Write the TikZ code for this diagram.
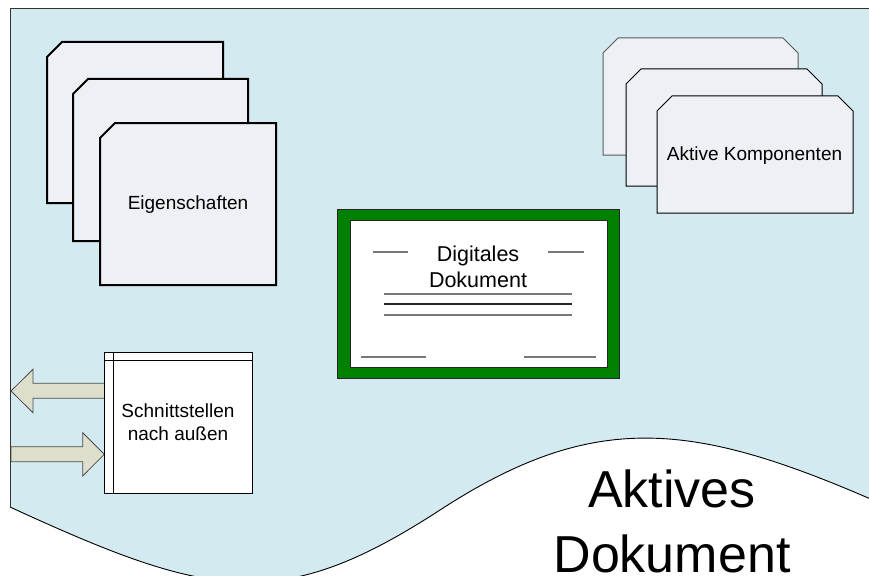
\documentclass[tikz,border=0pt]{standalone}
\usepackage{fontspec}
\setmainfont{Liberation Sans}
\definecolor{paper}{RGB}{210,234,240}
\definecolor{cardfill}{RGB}{237,240,245}
\definecolor{framegreen}{RGB}{0,128,0}
\definecolor{arrowfill}{RGB}{221,223,204}
\definecolor{rulegray}{RGB}{120,120,120}
\tikzset{
  heavycard/.style={fill=cardfill, draw=black, line width=2pt, line join=miter},
  lightcard/.style={fill=cardfill, draw=black, line width=1pt, line join=miter},
  backcard/.style={fill=cardfill, draw=black!65, line width=1pt, line join=miter},
  rulebar/.style={draw=rulegray, line width=1.2pt},
  blockarrow/.style={fill=arrowfill, draw=black!70, line width=0.8pt, line join=miter},
  label/.style={font=\fontsize{19}{23}\selectfont, align=center, inner sep=0pt},
}
\begin{document}
\begin{tikzpicture}[x=1pt, y=-1pt]
\useasboundingbox (0,0) rectangle (869,575);
\clip (0,0) rectangle (869,575);
\fill[white] (0,0) rectangle (869,575);

% document sheet with wavy lower edge
\fill[paper] (900,9) -- (10,9) -- (10,507)
  .. controls (210,599) and (280,614) .. (440,510)
  .. controls (600,406) and (700,422) .. (900,512) -- cycle;
\draw[line width=0.9pt] (10,507)
  .. controls (210,599) and (280,614) .. (440,510)
  .. controls (600,406) and (700,422) .. (900,512);
\draw[line width=1pt, draw=black!80] (10,507) -- (10,9) -- (900,9);

% stacked property sheets
\draw[heavycard] (47,57) -- (62,42) -- (223,42) -- (223,203) -- (47,203) -- cycle;
\draw[heavycard] (73,94) -- (88,79) -- (248,79) -- (248,241) -- (73,241) -- cycle;
\draw[heavycard] (100,138) -- (115,123) -- (276,123) -- (276,285) -- (100,285) -- cycle;
\node[label, anchor=base] (eig) at (188,209) {Eigenschaften};

% stacked component sheets
\draw[backcard] (603,53) -- (618,38) -- (783,38) -- (798,53) -- (798,155) -- (603,155) -- cycle;
\draw[lightcard] (626,84) -- (641,69) -- (807,69) -- (822,84) -- (822,186) -- (626,186) -- cycle;
\draw[lightcard] (657,111) -- (672,96) -- (838,96) -- (853,111) -- (853,213) -- (657,213) -- cycle;
\node[label, anchor=base] (komp) at (754.5,160) {Aktive Komponenten};

% framed digital document
\draw[fill=framegreen, draw=black!85, line width=1pt] (337,209) rectangle (619,378);
\draw[fill=white, draw=black!85, line width=1pt] (350,220) rectangle (607,367);
\draw[rulebar] (373,252) -- (408,252);
\draw[rulebar] (548,252) -- (584,252);
\draw[rulebar] (384,294) -- (572,294);
\draw[rulebar, draw=black!85] (384,304) -- (572,304);
\draw[rulebar] (384,315) -- (572,315);
\draw[rulebar] (361,357) -- (426,357);
\draw[rulebar] (524,357) -- (596,357);
% the base anchor of a two-line node sits on its last line
\node[label, font=\fontsize{21.5}{26}\selectfont, anchor=base] (dig) at (478,287) {Digitales\\Dokument};

% interface arrows
\draw[blockarrow] (106,383.3) -- (33,383.3) -- (33,369.3) -- (11,391) -- (33,412.7)
  -- (33,398.3) -- (106,398.3) -- cycle;
\draw[blockarrow] (11,446.7) -- (82.7,446.7) -- (82.7,432.7) -- (104.3,454.3)
  -- (82.7,476) -- (82.7,461.7) -- (11,461.7) -- cycle;

% interface box
\node[label, draw=black, fill=white, line width=1pt, minimum width=148pt,
  minimum height=141pt] (schnitt) at (178,422.5) {Schnittstellen\\nach au\ss en};
\draw[line width=1pt] ([xshift=10pt]schnitt.north west) -- ([xshift=10pt]schnitt.south west);
\draw[line width=1pt] ([yshift=-9pt]schnitt.north west) -- ([yshift=-9pt]schnitt.north east);

% title
\node[font=\fontsize{52}{64.5}\selectfont, align=center, inner sep=0pt, anchor=base]
  (aktiv) at (672,572) {Aktives\\Dokument};
\end{tikzpicture}
\end{document}
